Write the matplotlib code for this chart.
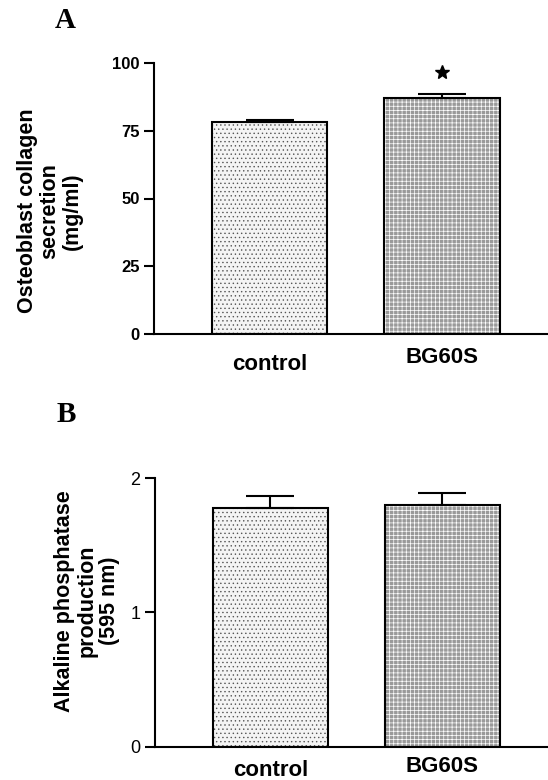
import matplotlib
matplotlib.use("Agg")
import matplotlib.pyplot as plt
import matplotlib.transforms as mtransforms

plt.rcParams['font.family'] = ['Liberation Sans', 'DejaVu Sans']
plt.rcParams['hatch.linewidth'] = 0.5

groups = ["control", "BG60S"]

# panel A: collagen secretion (mg/ml)
collagen_mean = [78.2, 87.0]
collagen_err = [0.8, 1.4]
collagen_star = 96.5

# panel B: alkaline phosphatase (595 nm)
alp_mean = [1.775, 1.80]
alp_err = [0.09, 0.085]

face_colors = ["#f4f4f4", "#9a9a9a"]
hatches = ["....", "++++"]
hatch_colors = ["#555555", "#ffffff"]


def draw_bars(ax, means, errs):
    """bars with patterned fill, outline and upper error bars"""
    x = range(len(groups))
    for i in x:
        ax.bar(i, means[i], width=0.67, color=face_colors[i], linewidth=0, zorder=1)
        ax.bar(i, means[i], width=0.67, fill=False, hatch=hatches[i],
               edgecolor=hatch_colors[i], linewidth=0, zorder=2)
        ax.bar(i, means[i], width=0.67, fill=False, edgecolor="black",
               linewidth=1.5, zorder=3)
    ax.errorbar(list(x), means, yerr=[[0, 0], errs], fmt="none", ecolor="black",
                elinewidth=1.5, capsize=17, capthick=1.5, zorder=4)
    ax.set_xlim(-0.67, 1.614)
    for s in ["top", "right"]:
        ax.spines[s].set_visible(False)
    for s in ["left", "bottom"]:
        ax.spines[s].set_linewidth(1.5)
    ax.set_xticks([])
    ax.tick_params(axis="y", length=7, width=1.5)


fig = plt.figure(figsize=(5.48, 7.8), dpi=100)

# ---- A ----
axA = fig.add_axes([154 / 548, 1 - 334 / 780, 1 - 154 / 548, 271 / 780])
draw_bars(axA, collagen_mean, collagen_err)
axA.set_ylim(0, 100)
axA.set_yticks([0, 25, 50, 75, 100])
axA.tick_params(axis="y", labelsize=12)
for lab in axA.get_yticklabels():
    lab.set_fontweight("bold")
axA.plot([1], [collagen_star], marker="*", color="black", markersize=10, zorder=5)
trA = mtransforms.blended_transform_factory(axA.transData, fig.transFigure)
axA.text(0, 1 - 364 / 780, groups[0], transform=trA, ha="center", va="center",
         fontsize=16, fontweight="bold")
axA.text(1, 1 - 358 / 780, groups[1], transform=trA, ha="center", va="center",
         fontsize=16, fontweight="bold")
fig.text(50 / 548, 1 - 211 / 780, "Osteoblast collagen\nsecretion\n(mg/ml)",
         rotation=90, ha="center", va="center", fontsize=15.5, fontweight="bold",
         linespacing=1.1)
fig.text(65 / 548, 1 - 20 / 780, "A", ha="center", va="center", fontsize=21,
         fontweight="bold", family="Liberation Serif")

# ---- B ----
axB = fig.add_axes([155 / 548, 1 - 746.7 / 780, 1 - 155 / 548, 268.7 / 780])
draw_bars(axB, alp_mean, alp_err)
axB.set_ylim(0, 2)
axB.set_yticks([0, 1, 2])
axB.tick_params(axis="y", labelsize=13)
trB = mtransforms.blended_transform_factory(axB.transData, fig.transFigure)
axB.text(0, 1 - 770 / 780, groups[0], transform=trB, ha="center", va="center",
         fontsize=16, fontweight="bold")
axB.text(1, 1 - 767 / 780, groups[1], transform=trB, ha="center", va="center",
         fontsize=16, fontweight="bold")
fig.text(87 / 548, 1 - 601 / 780, "Alkaline phosphatase\nproduction\n(595 nm)",
         rotation=90, ha="center", va="center", fontsize=15.5, fontweight="bold",
         linespacing=1.1)
fig.text(66 / 548, 1 - 415 / 780, "B", ha="center", va="center", fontsize=21,
         fontweight="bold", family="Liberation Serif")

fig.savefig("out.png", dpi=100)
